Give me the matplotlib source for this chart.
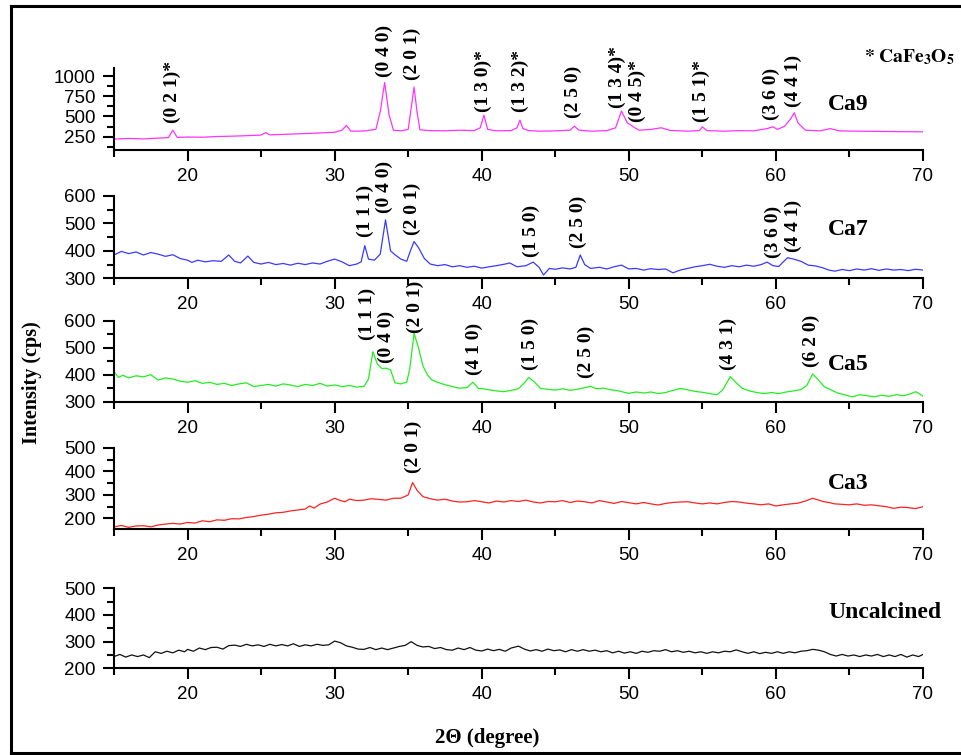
import matplotlib
matplotlib.use("Agg")
import matplotlib.pyplot as plt
from matplotlib.ticker import MultipleLocator
from matplotlib.lines import Line2D

# ---------------- data (2theta, intensity) ----------------
ca9_pts = [(15,220),(16,228),(17,222),(18,232),(18.7,238),(19.0,330),(19.3,240),(20,246),(21,243),(22,252),
           (23,256),(24,262),(25,270),(25.3,300),(25.6,272),(26,275),(27,282),(28,288),(29,296),(30,305),
           (30.5,330),(30.8,390),(31.1,318),(32,320),(32.8,340),(33.1,560),(33.4,921),(33.7,520),(34.0,330),
           (34.5,322),(35.0,340),(35.2,600),(35.4,864),(35.6,560),(35.8,335),(36.5,325),(37.5,322),(38.5,330),
           (39.5,325),(39.9,360),(40.15,517),(40.4,340),(41,322),(42,326),(42.4,360),(42.6,455),(42.8,350),
           (43.2,325),(44,318),(45,322),(46,330),(46.3,380),(46.6,330),(47.5,318),(48.5,325),(49.1,360),
           (49.5,567),(49.9,420),(50.15,392),(50.4,360),(50.7,330),(51.5,340),(52.2,360),(52.8,328),(54,318),
           (54.8,325),(55.0,372),(55.3,325),(56.5,318),(57.5,325),(58.5,322),(59.4,350),(59.8,372),(60.1,340),
           (60.6,380),(61.0,470),(61.25,546),(61.5,420),(62.0,330),(63,322),(63.7,350),(64.3,322),(65.5,318),
           (67,315),(68.5,312),(70,310)]

ca7_pts = [(15,385),(15.5,398),(16,390),(16.5,396),(17,385),(17.5,394),(18,388),(18.5,380),(19,386),(19.5,372),
           (20,366),(20.3,358),(20.7,366),(21.2,360),(21.7,364),(22.3,362),(22.8,385),(23.2,362),(23.6,356),
           (24.1,381),(24.5,358),(25,352),(25.5,358),(26,350),(26.5,354),(27,348),(27.5,355),(28,350),(28.5,356),
           (29,352),(29.5,362),(30,370),(30.5,360),(31,346),(31.5,352),(31.8,360),(32.05,419),(32.3,370),
           (32.7,366),(33.1,388),(33.46,513),(33.8,400),(34.1,386),(34.5,370),(34.9,362),(35.15,400),(35.4,434),
           (35.7,412),(36.1,372),(36.5,352),(37,346),(37.5,350),(38,342),(38.5,346),(39,340),(39.5,344),(40,337),
           (40.5,342),(41,346),(41.6,352),(41.9,356),(42.4,342),(43,346),(43.5,359),(43.9,340),(44.2,312),
           (44.6,336),(45,333),(45.5,338),(46,334),(46.4,340),(46.7,385),(47.0,350),(47.4,336),(48,340),(48.5,334),
           (49,342),(49.5,348),(50,334),(50.5,336),(51,330),(51.5,335),(52,332),(52.5,334),(53,320),(53.5,330),
           (54,336),(54.5,342),(55,346),(55.5,351),(56,344),(56.5,340),(57,346),(57.5,342),(58,348),(58.5,344),
           (59,350),(59.4,359),(59.8,346),(60.2,343),(60.5,360),(60.8,375),(61.2,370),(61.7,362),(62.2,348),
           (62.7,345),(63.2,338),(63.6,330),(64,326),(64.5,332),(65,328),(65.5,334),(66,330),(66.5,335),(67,329),
           (67.5,334),(68,330),(68.5,332),(69,328),(69.5,333),(70,330)]

ca5_pts = [(15,411),(15.3,390),(15.6,398),(16,388),(16.5,396),(17,392),(17.5,400),(18,380),(18.5,388),(19,384),
           (19.5,376),(20,372),(20.5,378),(21,368),(21.5,372),(22,364),(22.5,368),(23,360),(23.5,366),(24,370),
           (24.5,356),(25,360),(25.5,364),(26,358),(26.5,366),(27,362),(27.5,356),(28,364),(28.5,360),(29,368),
           (29.5,358),(30,362),(30.5,356),(31,360),(31.5,354),(32,357),(32.3,384),(32.6,485),(32.9,440),
           (33.2,423),(33.5,424),(33.8,418),(34.1,370),(34.5,366),(34.9,372),(35.1,420),(35.4,553),(35.7,500),
           (36.0,433),(36.3,400),(36.6,381),(37,372),(37.5,363),(38,356),(38.5,350),(39,352),(39.4,372),(39.8,348),
           (40,349),(40.5,344),(41,340),(41.5,337),(42,342),(42.5,348),(42.9,370),(43.2,390),(43.6,372),(44,349),
           (44.5,346),(45,343),(45.5,348),(46,342),(46.5,346),(47,352),(47.4,357),(47.8,348),(48.3,350),
           (48.8,344),(49.3,340),(50,331),(50.5,336),(51,332),(51.5,336),(52,330),(52.5,334),(53,342),(53.5,349),
           (54,344),(54.5,338),(55,335),(55.5,330),(56,326),(56.4,345),(56.9,393),(57.3,370),(57.7,350),
           (58.2,340),(58.7,334),(59.2,330),(59.7,334),(60.2,330),(60.7,336),(61.2,340),(61.7,345),(62.1,360),
           (62.5,403),(62.9,380),(63.3,355),(63.7,345),(64.2,332),(64.7,325),(65.2,318),(65.7,326),(66.2,322),
           (66.7,318),(67.2,324),(67.7,320),(68.2,326),(68.7,322),(69.2,330),(69.5,337),(69.8,328),(70,320)]

ca3_pts = [(15,164),(15.5,170),(16,162),(16.5,168),(17,169),(17.5,164),(18,172),(18.5,176),(19,179),(19.5,176),
           (20,183),(20.5,180),(21,190),(21.5,186),(22,194),(22.5,192),(23,199),(23.5,198),(24,204),(24.5,208),
           (25,214),(25.5,218),(26,224),(26.5,226),(27,232),(27.5,236),(28,240),(28.3,253),(28.6,244),(29,261),
           (29.5,270),(30,286),(30.4,276),(30.7,271),(31,282),(31.5,276),(32,278),(32.5,284),(33,281),(33.5,278),
           (34,286),(34.5,286),(35,300),(35.3,353),(35.6,320),(36,293),(36.5,284),(37,278),(37.5,282),(38,274),
           (38.5,270),(39,271),(39.5,276),(40,271),(40.5,266),(41,274),(41.5,270),(42,276),(42.5,272),(43,278),
           (43.5,270),(44,266),(44.5,272),(45,271),(45.5,276),(46,268),(46.5,274),(47,271),(47.5,266),(48,276),
           (48.5,270),(49,264),(49.5,272),(50,267),(50.5,262),(51,268),(51.5,262),(52,257),(52.5,264),(53,268),
           (53.5,270),(54,271),(54.5,266),(55,262),(55.5,266),(56,262),(56.5,268),(57,272),(57.5,270),(58,265),
           (58.5,262),(59,258),(59.5,262),(60,253),(60.5,258),(61,262),(61.5,265),(62,274),(62.5,286),(62.8,280),
           (63.2,272),(63.6,268),(64,262),(64.5,260),(65,258),(65.5,262),(66,256),(66.5,258),(67,254),(67.5,250),
           (68,243),(68.5,248),(69,246),(69.5,242),(70,250)]

unc_pts = [(15,244),(15.4,252),(15.8,242),(16.2,250),(16.6,244),(17,250),(17.4,240),(17.8,262),(18.2,256),
           (18.6,264),(19,258),(19.4,268),(19.8,262),(20,271),(20.4,264),(20.8,276),(21.2,270),(21.6,278),(22,279),
           (22.4,272),(22.8,285),(23.2,287),(23.6,282),(24,290),(24.4,284),(24.8,288),(25.2,282),(25.6,290),
           (26,284),(26.4,289),(26.8,284),(27.2,292),(27.6,282),(28,288),(28.4,284),(28.8,290),(29.2,286),
           (29.6,288),(30,302),(30.4,296),(30.8,284),(31.2,279),(31.6,272),(32,271),(32.4,278),(32.8,270),
           (33.2,276),(33.6,270),(34,276),(34.4,282),(34.8,286),(35.2,300),(35.6,286),(36,280),(36.4,282),
           (36.8,274),(37.2,278),(37.6,270),(38,268),(38.4,276),(38.8,270),(39.2,278),(39.6,268),(40,265),
           (40.4,272),(40.8,266),(41.2,271),(41.6,264),(42,276),(42.5,283),(42.9,272),(43.3,265),(43.7,270),
           (44.1,264),(44.5,272),(44.9,266),(45.3,269),(45.7,262),(46.1,270),(46.5,264),(46.9,270),(47.3,264),
           (47.7,268),(48.1,262),(48.5,266),(48.9,258),(49.3,264),(49.7,257),(50.1,262),(50.5,256),(50.9,264),
           (51.3,260),(51.7,266),(52.1,264),(52.5,270),(52.9,262),(53.3,266),(53.7,260),(54.1,264),(54.5,258),
           (54.9,262),(55.3,256),(55.7,262),(56.1,258),(56.5,264),(56.9,262),(57.3,269),(57.7,262),(58.1,256),
           (58.5,262),(58.9,255),(59.3,260),(59.7,256),(60.1,262),(60.5,256),(60.9,262),(61.3,258),(61.7,264),
           (62.1,266),(62.5,271),(62.9,268),(63.3,262),(63.7,252),(64.1,246),(64.5,252),(64.9,246),(65.3,250),
           (65.7,244),(66.1,250),(66.5,246),(66.9,252),(67.3,244),(67.7,250),(68.1,244),(68.5,252),(68.9,242),
           (69.3,250),(69.7,244),(70,252)]

# peak (hkl) labels
ca9_labels = ["(0 2 1)*", "(0 4 0)", "(2 0 1)", "(1 3 0)*", "(1 3 2)*", "(2 5 0)",
              "(1 3 4)*", "(0 4 5)*", "(1 5 1)*", "(3 6 0)", "(4 4 1)"]
ca9_label_x = [19.0, 33.4, 35.3, 40.1, 42.6, 46.2, 49.2, 50.6, 54.95, 59.7, 61.2]
ca7_labels = ["(1 1 1)", "(0 4 0)", "(2 0 1)", "(1 5 0)", "(2 5 0)", "(3 6 0)", "(4 4 1)"]
ca7_label_x = [32.1, 33.4, 35.3, 43.4, 46.6, 59.8, 61.2]
ca5_labels = ["(1 1 1)", "(0 4 0)", "(2 0 1)", "(4 1 0)", "(1 5 0)", "(2 5 0)", "(4 3 1)", "(6 2 0)"]
ca5_label_x = [32.2, 33.5, 35.5, 39.5, 43.3, 47.1, 56.8, 62.4]
ca3_labels = ["(2 0 1)"]
ca3_label_x = [35.35]

# label base heights (layout positions, in data units of each panel)
ca9_label_base = [417, 992, 955, 555, 555, 480, 605, 430, 430, 455, 617]
ca7_label_base = [450, 538, 458, 379, 410, 373, 397]
ca5_label_base = [528, 442, 553, 399, 417, 387, 417, 430]
ca3_label_base = [393]

W, H = 962, 755
fig = plt.figure(figsize=(W / 100, H / 100), dpi=100)
fig.patch.set_facecolor("white")

def fx(px):
    return px / W

def fy(py):
    return 1 - py / H

x_left, x_right = 114, 923
panels = [
    (ca9_pts, "#ff33ff", (85, 1100), 68, 150, 125, [250, 500, 750, 1000], "Ca9", 110,
     ca9_labels, ca9_label_x, ca9_label_base),
    (ca7_pts, "#3a3aff", (300, 600), 196, 278.3, 50, [300, 400, 500, 600], "Ca7", 235,
     ca7_labels, ca7_label_x, ca7_label_base),
    (ca5_pts, "#22ee22", (300, 600), 320.7, 401.7, 50, [300, 400, 500, 600], "Ca5", 370,
     ca5_labels, ca5_label_x, ca5_label_base),
    (ca3_pts, "#ff2222", (155, 500), 448, 529, 50, [200, 300, 400, 500], "Ca3", 489,
     ca3_labels, ca3_label_x, ca3_label_base),
    (unc_pts, "#111111", (200, 500), 588.3, 668.3, 50, [200, 300, 400, 500], "Uncalcined", 618,
     [], [], []),
]

serif_bold = dict(family="Liberation Serif", weight="bold")

for (pts, color, ylim, top_px, bot_px, minor, yticks, name, nbase,
     labels, lx, lbase) in panels:
    ax = fig.add_axes([fx(x_left), fy(bot_px), fx(x_right - x_left), (bot_px - top_px) / H])
    xs = [p[0] for p in pts]
    ys = [p[1] for p in pts]
    ax.plot(xs, ys, color=color, lw=0.9)
    ax.set_xlim(15, 70)
    ax.set_ylim(*ylim)
    ax.set_facecolor("none")
    for s in ["top", "right"]:
        ax.spines[s].set_visible(False)
    for s in ["left", "bottom"]:
        ax.spines[s].set_linewidth(1.5)
    ax.xaxis.set_major_locator(MultipleLocator(10))
    ax.xaxis.set_minor_locator(MultipleLocator(5))
    ax.set_yticks(yticks)
    ax.yaxis.set_minor_locator(MultipleLocator(minor))
    ax.tick_params(which="major", direction="out", length=8, width=1.5, labelsize=13.5, pad=5)
    ax.tick_params(which="minor", direction="out", length=5, width=1.5)
    for lab in ax.get_xticklabels() + ax.get_yticklabels():
        lab.set_family("Liberation Sans")
    for t, xv, yb in zip(labels, lx, lbase):
        ax.text(xv, yb, t, rotation=90, ha="center", va="bottom", fontsize=14,
                clip_on=False, **serif_bold)
    fig.text(fx(828), fy(nbase), name, ha="left", va="baseline", fontsize=17, **serif_bold)

# CaFe3O5 legend note
plt.rcParams["mathtext.fontset"] = "stix"
fig.text(fx(864), fy(62), r"$\mathbf{*\ CaFe_3O_5}$", ha="left", va="baseline", fontsize=14)

# axis titles
fig.text(fx(32), fy(383), "Intensity (cps)", rotation=90, ha="center", va="center",
         fontsize=14.5, **serif_bold)
fig.text(fx(487), fy(738), "2\u0398 (degree)", ha="center", va="center", fontsize=15, **serif_bold)

# outer frame
lw_frame = 2.2
fig.add_artist(Line2D([fx(11), fx(11)], [fy(6), fy(753)], color="black", lw=lw_frame))
fig.add_artist(Line2D([fx(11), 1.0], [fy(6), fy(6)], color="black", lw=lw_frame))
fig.add_artist(Line2D([fx(11), 1.0], [fy(753), fy(753)], color="black", lw=lw_frame))

fig.savefig("out.png", dpi=100)
